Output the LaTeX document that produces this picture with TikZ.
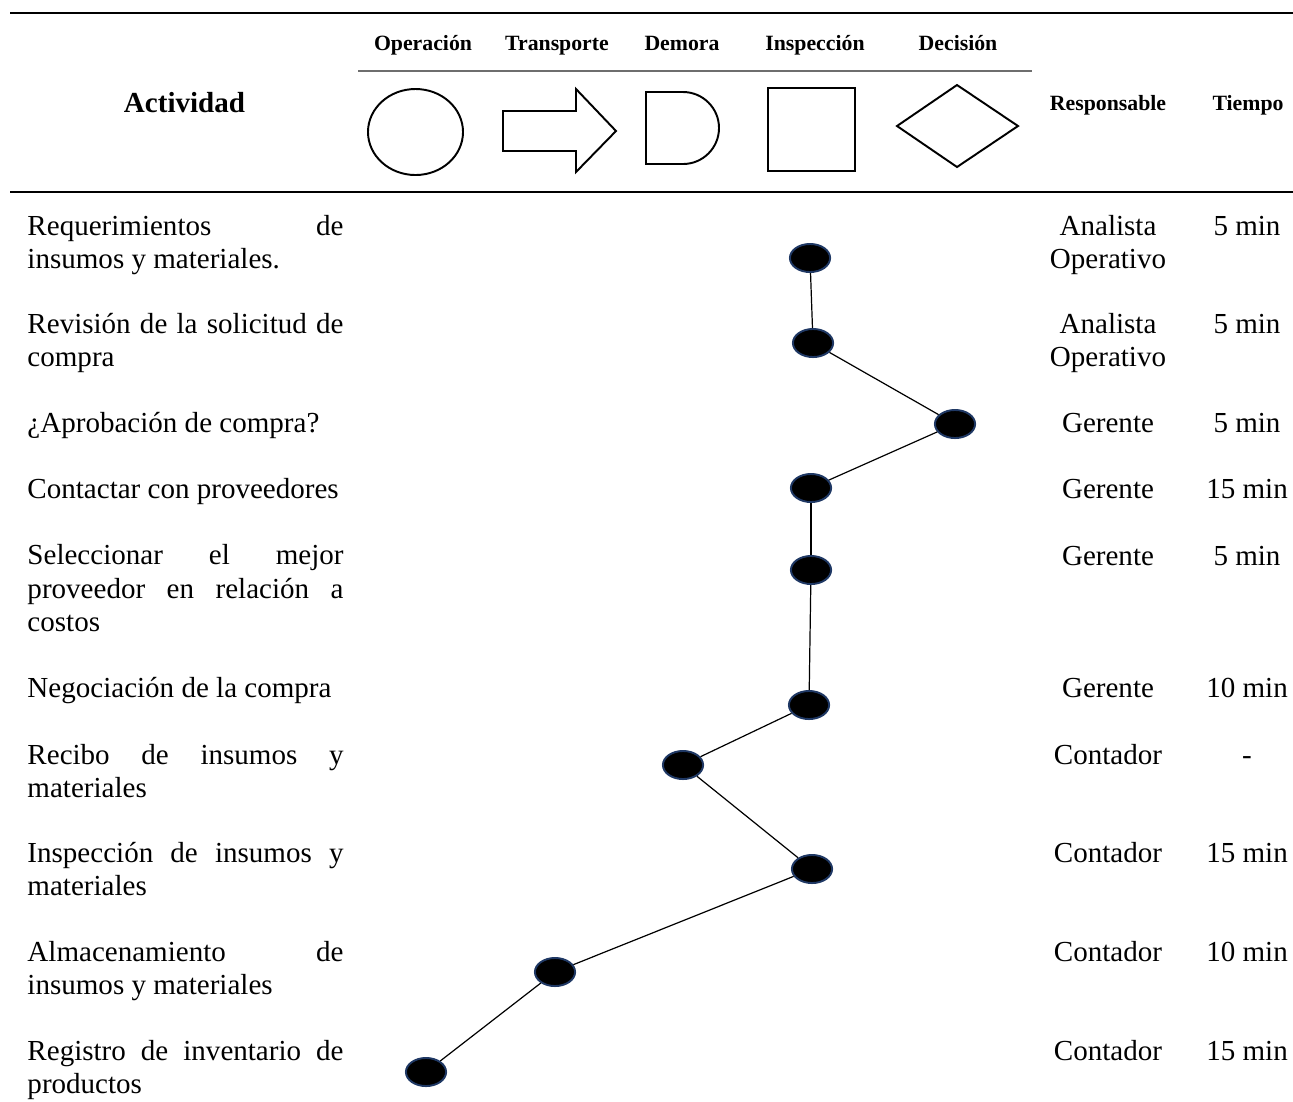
\documentclass[tikz,border=0pt]{standalone}
\usepackage{fontspec}
\setmainfont{Liberation Serif}
\usetikzlibrary{shapes.geometric}
\definecolor{dotedge}{HTML}{1F3864}
\definecolor{midrule}{HTML}{6E6E6E}
\newcommand{\JL}[1]{\makebox[130.6pt][s]{#1}}
\begin{document}
\begin{tikzpicture}[x=0.4132pt,y=-0.4132pt,
  body/.style={inner sep=0pt,anchor=base west,align=left,font=\fontsize{12}{13.64}\selectfont},
  colc/.style={inner sep=0pt,anchor=base,align=center,font=\fontsize{12}{13.64}\selectfont},
  headlbl/.style={inner sep=0pt,anchor=base,font=\fontsize{9}{10.8}\selectfont\bfseries},
  symb/.style={draw=black,line width=0.8pt,line join=miter},
  rulethick/.style={line width=1.1pt},
  dot/.style={ellipse,fill=black,draw=dotedge,line width=0.8pt,minimum width=16.6pt,minimum height=11.6pt,inner sep=0pt},
  link/.style={draw=black,line width=0.5pt}]
\useasboundingbox (0,0) rectangle (1293,1101);
% header rules
\draw[rulethick] (10,13) -- (1293,13);
\draw[draw=midrule,line width=0.7pt] (358,71) -- (1032,71);
\draw[rulethick] (10,192) -- (1293,192);
% header labels
\node[inner sep=0pt,anchor=base,font=\fontsize{12}{14}\selectfont\bfseries] (hact) at (184.5,112) {Actividad};
\node[headlbl] (hop) at (423,50) {Operación};
\node[headlbl] (htr) at (557,50) {Transporte};
\node[headlbl] (hde) at (682,50) {Demora};
\node[headlbl] (hin) at (815,50) {Inspección};
\node[headlbl] (hdc) at (958,50) {Decisión};
\node[headlbl] (hre) at (1108,110) {Responsable};
\node[headlbl] (hti) at (1248,110) {Tiempo};
% header symbols
\draw[symb] (415.5,132) ellipse [x radius=19.63pt, y radius=17.77pt];
\draw[symb] (503,111) -- (576,111) -- (576,89) -- (616,131) -- (576,172) -- (576,151) -- (503,151) -- cycle;
\draw[symb] (646,92) -- (683,92) arc[start angle=90, end angle=-90, radius=14.875pt] -- (646,164) -- cycle;
\draw[symb,line width=1pt] (768,88) rectangle (855,171);
\draw[symb] (897,126) -- (957,85) -- (1018,126) -- (957,167) -- cycle;
% activity texts (anchor = baseline of last line)
\node[body] (a1) at (27,268) {\JL{Requerimientos de}\\insumos y materiales.};
\node[body] (a2) at (27,366) {\JL{Revisión de la solicitud de}\\compra};
\node[body] (a3) at (27,432) {¿Aprobación de compra?};
\node[body] (a4) at (27,498) {Contactar con proveedores};
\node[body] (a5) at (27,631) {\JL{Seleccionar el mejor}\\\JL{proveedor en relación a}\\costos};
\node[body] (a6) at (27,697) {Negociación de la compra};
\node[body] (a7) at (27,797) {\JL{Recibo de insumos y}\\materiales};
\node[body] (a8) at (27,895) {\JL{Inspección de insumos y}\\materiales};
\node[body] (a9) at (27,994) {\JL{Almacenamiento de}\\insumos y materiales};
\node[body] (a10) at (27,1093) {\JL{Registro de inventario de}\\productos};
% responsable
\node[colc] (r1) at (1108,268) {Analista\\Operativo};
\node[colc] (r2) at (1108,366) {Analista\\Operativo};
\node[colc] (r3) at (1108,432) {Gerente};
\node[colc] (r4) at (1108,498) {Gerente};
\node[colc] (r5) at (1108,565) {Gerente};
\node[colc] (r6) at (1108,697) {Gerente};
\node[colc] (r7) at (1108,764) {Contador};
\node[colc] (r8) at (1108,862) {Contador};
\node[colc] (r9) at (1108,961) {Contador};
\node[colc] (r10) at (1108,1060) {Contador};
% tiempo
\node[colc] (t1) at (1247,235) {5 min};
\node[colc] (t2) at (1247,333) {5 min};
\node[colc] (t3) at (1247,432) {5 min};
\node[colc] (t4) at (1247,498) {15 min};
\node[colc] (t5) at (1247,565) {5 min};
\node[colc] (t6) at (1247,697) {10 min};
\node[colc] (t7) at (1247,764) {-};
\node[colc] (t8) at (1247,862) {15 min};
\node[colc] (t9) at (1247,961) {10 min};
\node[colc] (t10) at (1247,1060) {15 min};
% dots
\node[dot] (d1) at (810,258) {};
\node[dot] (d2) at (813,343) {};
\node[dot] (d3) at (955,424) {};
\node[dot] (d4) at (811,488) {};
\node[dot] (d5) at (811,570) {};
\node[dot] (d6) at (809,705) {};
\node[dot] (d7) at (683,765) {};
\node[dot] (d8) at (812,869) {};
\node[dot] (d9) at (555,972) {};
\node[dot] (d10) at (426,1072) {};
% connectors
\draw[link] (d1) -- (d2);
\draw[link] (d2) -- (d3);
\draw[link] (d3) -- (d4);
\draw[link] (d4) -- (d5);
\draw[link] (d5) -- (d6);
\draw[link] (d6) -- (d7);
\draw[link] (d7) -- (d8);
\draw[link] (d8) -- (d9);
\draw[link] (d9) -- (d10);
\end{tikzpicture}
\end{document}
